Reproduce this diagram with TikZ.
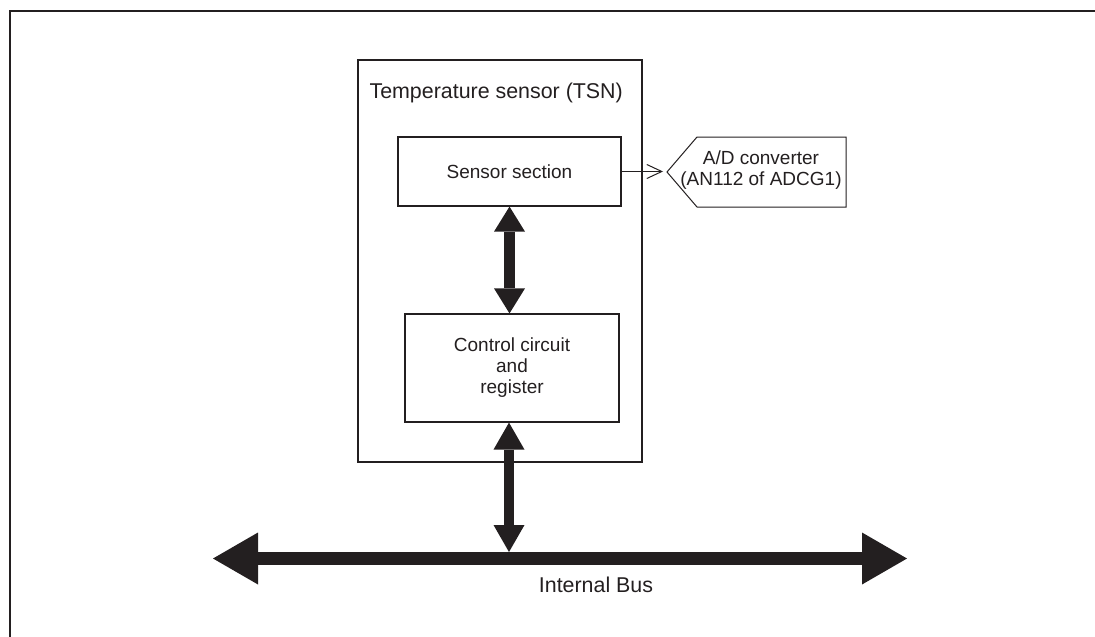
\documentclass[tikz,border=0pt]{standalone}
\usepackage{fontspec}
\setmainfont{Liberation Sans}
\usetikzlibrary{arrows.meta}
\definecolor{ink}{RGB}{35,31,32}

\begin{document}
\begin{tikzpicture}[x=1pt,y=-1pt,
  every node/.style={font=\fontsize{19}{21}\selectfont,text=ink},
  blk/.style={draw=ink,line width=1.2pt,rectangle,inner sep=0pt,align=center},
  big/.style={font=\fontsize{21.4}{24}\selectfont},
  fat/.style={draw=ink,line width=11pt,
    {Triangle[width=31pt,length=25pt,line width=0pt]}-{Triangle[width=31pt,length=25pt,line width=0pt]}},
  tap/.style={draw=ink,line width=10pt,
    {Triangle[width=31pt,length=27pt,line width=0pt]}-{Triangle[width=31pt,length=27pt,line width=0pt]}},
  bus/.style={draw=ink,line width=13pt,
    {Triangle[width=52pt,length=45pt,line width=0pt]}-{Triangle[width=52pt,length=45pt,line width=0pt]}},
  sig/.style={draw=ink,line width=1pt,-{Straight Barb[length=15pt,width=14pt]}}]

  \useasboundingbox (0,0) rectangle (1095,637);

  % Frame
  \draw[ink,line width=2.3pt] (10,637) -- (10,11) -- (1095,11);

  % TSN module
  \node[blk,line width=2pt,minimum width=284pt,minimum height=402pt] (tsn) at (500,261) {};
  \node[big,anchor=base west] (tsntitle) at (366,98) {Temperature sensor (TSN)};
  \node[blk,minimum width=223pt,minimum height=69pt] (sensor) at (509.5,171.5) {Sensor section};
  \node[blk,minimum width=214pt,minimum height=108pt] (ctrl) at (512,368) {Control circuit\\and\\register};

  % A/D converter
  \draw[ink,line width=1pt] (697,137) -- (846,137) -- (846,207) -- (697,207) -- (667,172) -- cycle;
  \node[align=center] (adc) at (761,170) {A/D converter\\(AN112 of ADCG1)};
  \coordinate (adcin) at (667,172);

  % Internal bus
  \coordinate (busL) at (213,558.5);
  \coordinate (busR) at (907,558.5);
  \coordinate (busin) at (509,552);
  \node[big,anchor=base] (buslbl) at (596,592) {Internal Bus};

  % Edges
  \draw[sig,shorten >=4pt] (sensor.east) -- (sensor.east -| adcin);
  \draw[fat] (sensor.south) -- (sensor.south |- ctrl.north);
  \draw[tap] (ctrl.south -| busin) -- (busin);
  \draw[bus] (busL) -- (busR);
\end{tikzpicture}
\end{document}
